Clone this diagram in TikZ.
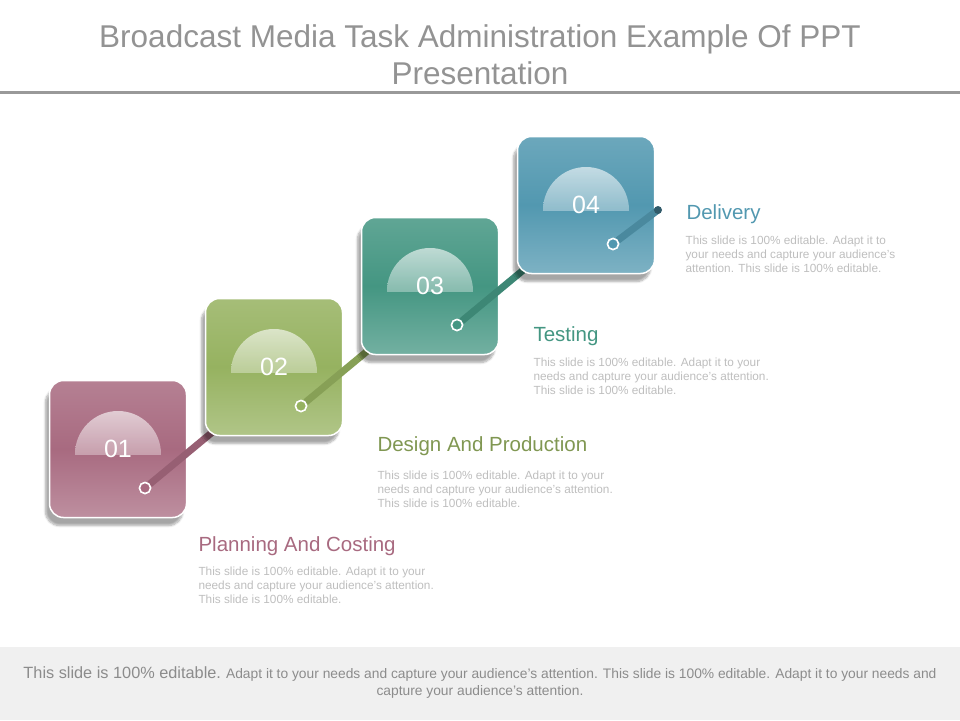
\documentclass[tikz,border=0pt]{standalone}
\usepackage{fontspec}
\setmainfont{Liberation Sans}
\usetikzlibrary{shadows.blur}
\definecolor{stepPink}{RGB}{168,106,128}
\definecolor{stepGreen}{RGB}{150,178,96}
\definecolor{stepTeal}{RGB}{68,150,130}
\definecolor{stepBlue}{RGB}{82,152,176}
\definecolor{bodyGray}{RGB}{190,190,190}
\tikzset{
  stepbox/.style={rounded corners=14pt,minimum width=137pt,minimum height=137pt,draw=white,line width=1.5pt,
    blur shadow={shadow xshift=-4pt,shadow yshift=-8pt,shadow blur steps=8,shadow opacity=35}},
  ring/.style={circle,draw=white,line width=1.5pt,inner sep=0pt,minimum size=11pt},
  numtext/.style={text=white,font=\fontsize{25}{25}\selectfont},
  headtext/.style={anchor=west,font=\fontsize{20.5}{22}\selectfont},
  bodytext/.style={anchor=north west,align=left,text=bodyGray,font=\fontsize{11.8}{14}\selectfont},
}
\begin{document}
\begin{tikzpicture}[x=1pt,y=-1pt]
\useasboundingbox (0,0) rectangle (960,720);
% title and footer
\node[text=gray!85,align=center,font=\fontsize{31.5}{37}\selectfont] (title) at (480,55) {Broadcast Media Task Administration Example Of PPT\\Presentation};
\draw[gray!80,line width=3pt] (0,92) -- (960,92);
\fill[gray!12] (0,647) rectangle (960,720);
\node[text=gray!90,align=center,font=\fontsize{13.8}{17}\selectfont] (foot) at (480,683) {{\fontsize{16.3}{17}\selectfont This slide is 100\% editable.} Adapt it to your needs and capture your audience's attention. This slide is 100\% editable. Adapt it to your needs and\\capture your audience's attention.};
% steps
\foreach \i/\cx/\cy/\col/\ex/\ey in {1/118/449/stepPink/97/-19,2/274/367/stepGreen/97/-19,3/430/286/stepTeal/97/-19,4/586/205/stepBlue/72/5}{
  \node[stepbox,top color=\col!85!white,bottom color=\col!75!white,middle color=\col] (b\i) at (\cx,\cy) {};
  \begin{scope}
    \clip (\cx-45,\cy+5) rectangle (\cx+45,\cy-50);
    \shade[top color=white!80!\col,bottom color=\col!90!white,opacity=0.8] (\cx,\cy+5) circle (43);
  \end{scope}
  \node[numtext] (n\i) at (\cx,\cy) {0\i};
  \node[ring,fill=\col] (r\i) at (\cx+27,\cy+39) {};
  \coordinate (e\i) at (\cx+\ex,\cy+\ey);
  \draw[\col!90!black,line width=7pt] (r\i) -- (e\i);
  \node[ring,fill=\col] at (r\i) {};
}
\fill[stepBlue!60!black] (e4) circle (4);
% labels
\node[headtext,text=stepBlue] (h4) at (683,214) {Delivery};
\node[bodytext] (t4) at (682,232) {This slide is 100\% editable. Adapt it to\\your needs and capture your audience's\\attention. This slide is 100\% editable.};
\node[headtext,text=stepTeal] (h3) at (530,336) {Testing};
\node[bodytext] (t3) at (530,354) {This slide is 100\% editable. Adapt it to your\\needs and capture your audience's attention.\\This slide is 100\% editable.};
\node[headtext,text=stepGreen!85!black] (h2) at (374,446) {Design And Production};
\node[bodytext] (t2) at (374,467) {This slide is 100\% editable. Adapt it to your\\needs and capture your audience's attention.\\This slide is 100\% editable.};
\node[headtext,text=stepPink] (h1) at (195,546) {Planning And Costing};
\node[bodytext] (t1) at (195,563) {This slide is 100\% editable. Adapt it to your\\needs and capture your audience's attention.\\This slide is 100\% editable.};
\end{tikzpicture}
\end{document}
